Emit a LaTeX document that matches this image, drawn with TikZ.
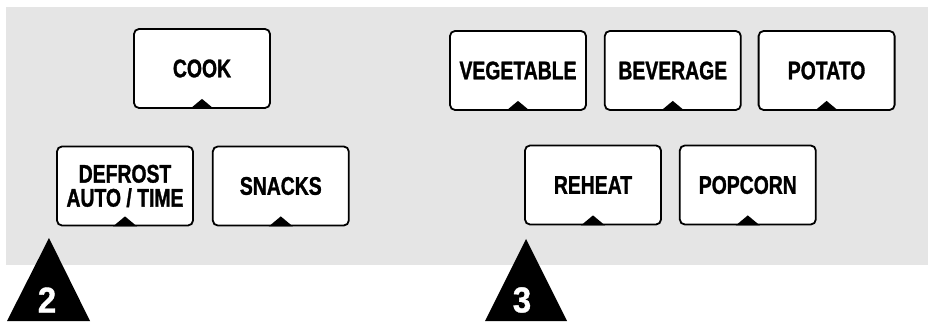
\documentclass[tikz,border=0pt]{standalone}
\usepackage{fontspec}
\newfontfamily\keyfont{Liberation Sans}[FakeStretch=0.76, FakeBold=1.2]
\newfontfamily\stepfont{Liberation Sans}[FakeStretch=0.92, FakeBold=1]
\usetikzlibrary{positioning}
\definecolor{panelgray}{gray}{0.9}

\begin{document}
\begin{tikzpicture}[
    x=1pt, y=1pt, node distance=18pt,
    keybox/.style={draw, line width=1.8pt, rounded corners=5pt, fill=white,
                   minimum width=136pt, minimum height=79pt, align=center,
                   font=\keyfont\bfseries\fontsize{25.5}{24}\selectfont},
    stepnum/.style={text=white, inner sep=0pt,
                    font=\stepfont\bfseries\fontsize{36}{36}\selectfont}
  ]
  \useasboundingbox (0,0) rectangle (928,321);
  \fill[panelgray] (6,56) rectangle (928,314);

  % left group
  \node[keybox] (cook) at (202,252.5) {COOK};
  \node[keybox] (defrost) at (125,135) {DEFROST\\AUTO / TIME};
  \node[keybox, right=of defrost] (snacks) {SNACKS};

  % right group
  \node[keybox] (vegetable) at (518,250.5) {VEGETABLE};
  \node[keybox, right=17pt of vegetable] (beverage) {BEVERAGE};
  \node[keybox, right=16pt of beverage] (potato) {POTATO};
  \node[keybox] (reheat) at (593,136) {REHEAT};
  \node[keybox, right=17pt of reheat] (popcorn) {POPCORN};

  % notches under the keys
  \foreach \k in {cook,defrost,snacks,vegetable,beverage,potato,reheat,popcorn}
    \fill ([xshift=-12pt]\k.south) -- ([yshift=10pt]\k.south)
          -- ([xshift=12pt]\k.south) -- cycle;

  % step markers
  \fill (7,0) -- (49,83) -- (90,0) -- cycle;
  \node[stepnum] (two) at (47,21) {2};
  \fill (485,0) -- (526,82) -- (567,0) -- cycle;
  \node[stepnum] (three) at (522,21) {3};
\end{tikzpicture}
\end{document}
